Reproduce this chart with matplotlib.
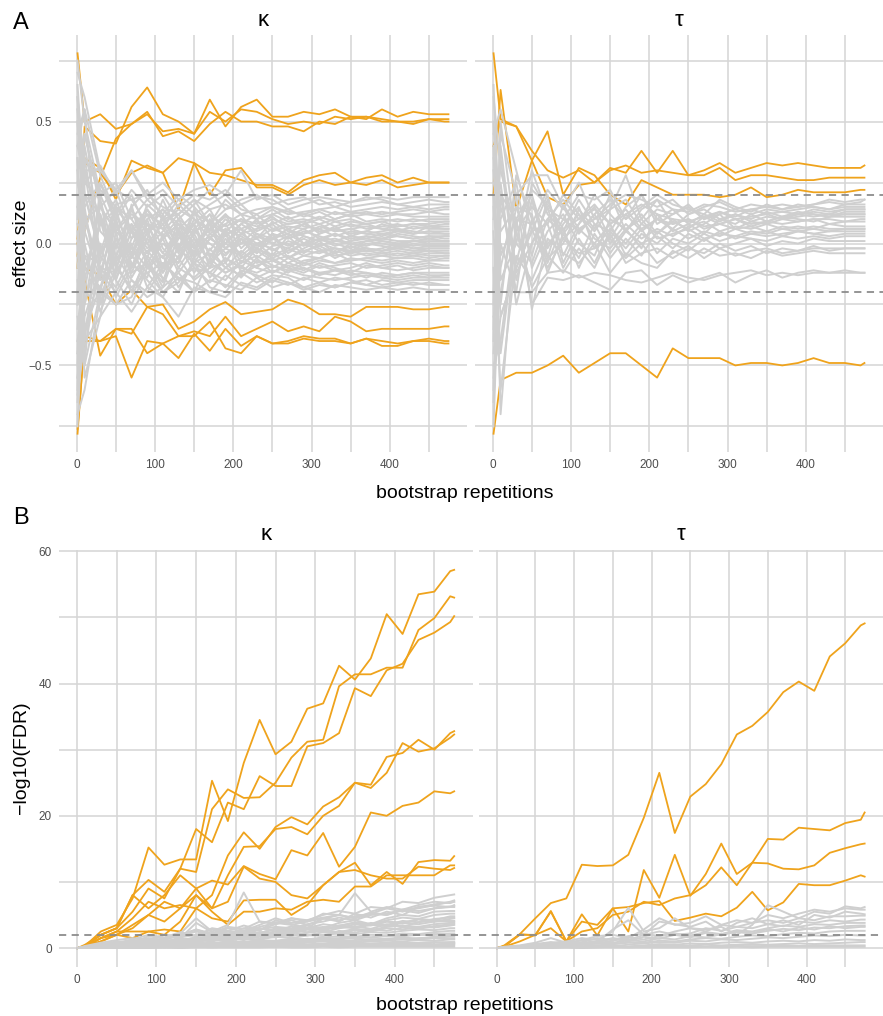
import numpy as np
import matplotlib.pyplot as plt

plt.rcParams['font.family'] = ['Liberation Sans', 'DejaVu Sans']

# bootstrap repetitions (x positions shared by every line)
reps = [1, 10, 30, 50, 70, 90, 110, 130, 150, 170, 190, 210, 230,
        250, 270, 290, 310, 330, 350, 370, 390, 410, 430, 450, 470, 475]

# ---- panel A: effect size (values x100) ----
kappa_es_hit = [
    [78, 50, 53, 47, 49, 54, 44, 46, 42, 49, 54, 50, 50, 48, 48, 46, 50, 49, 52, 52, 50, 50, 49, 51, 51, 51],
    [-10, 48, 42, 41, 56, 64, 53, 50, 45, 59, 48, 56, 59, 52, 52, 54, 53, 55, 52, 51, 55, 52, 54, 53, 53, 53],
    [0, 5, 27, 43, 49, 53, 46, 47, 45, 54, 50, 55, 54, 51, 49, 50, 49, 52, 51, 52, 51, 50, 50, 51, 50, 50],
    [2, 35, 31, 18, 34, 31, 29, 14, 33, 29, 28, 26, 24, 24, 21, 26, 28, 29, 25, 27, 28, 25, 27, 25, 25, 25],
    [-5, 33, 29, 20, 29, 32, 29, 35, 33, 20, 30, 31, 23, 23, 20, 24, 26, 24, 25, 24, 26, 23, 24, 25, 25, 25],
    [0, -10, -13, -25, -19, -26, -25, -35, -32, -27, -24, -29, -28, -27, -23, -25, -29, -29, -30, -26, -26, -26, -27, -27, -26, -26],
    [-76, -40, -40, -35, -35, -45, -41, -38, -36, -38, -30, -38, -35, -32, -36, -34, -36, -30, -32, -36, -35, -35, -35, -35, -34, -34],
    [-78, -38, -40, -38, -55, -40, -41, -47, -37, -44, -35, -42, -38, -41, -41, -39, -40, -40, -41, -39, -42, -42, -40, -39, -40, -40],
    [0, -15, -46, -35, -37, -26, -29, -38, -38, -32, -43, -45, -38, -41, -40, -38, -39, -39, -41, -39, -40, -41, -40, -40, -41, -41],
]
kappa_es_grey = [
    [70, 60, 30, 22, 18, 20, 15, 12, 18, 14, 16, 12, 14, 15, 12, 13, 14, 15, 13, 14, 15, 14, 15, 14, 15, 15],
    [-65, -30, -10, -18, -5, -12, -8, -15, -10, -12, -6, -10, -12, -9, -11, -10, -12, -13, -11, -12, -13, -14, -13, -14, -13, -13],
    [40, 25, 32, 20, 30, 18, 22, 15, 20, 18, 22, 16, 19, 18, 14, 16, 18, 15, 17, 19, 18, 16, 17, 18, 17, 17],
    [-40, -50, -20, -25, -15, -22, -18, -12, -20, -15, -17, -19, -14, -18, -16, -19, -17, -18, -16, -17, -18, -17, -16, -17, -17, -17],
    [10, 45, 15, 5, 12, 8, 3, 10, 5, 8, 4, 6, 9, 5, 7, 6, 8, 5, 6, 7, 6, 5, 7, 6, 6, 6],
    [-20, 5, -15, -8, -20, -5, -12, -2, -8, -4, -10, -6, -3, -7, -5, -8, -6, -4, -7, -6, -5, -6, -5, -6, -5, -5],
    [55, 35, 22, 15, 5, 12, 8, 14, 10, 6, 11, 9, 7, 10, 8, 9, 11, 9, 10, 8, 9, 10, 9, 10, 10, 10],
    [-55, -20, -25, -10, -18, -12, -20, -14, -16, -20, -13, -17, -19, -15, -17, -14, -16, -18, -16, -15, -17, -16, -17, -16, -17, -17],
    [30, -10, 8, 18, 2, 10, 14, 6, 12, 9, 5, 10, 8, 11, 6, 8, 10, 7, 9, 8, 9, 7, 8, 8, 9, 9],
    [-10, 20, -5, 10, -10, 2, -6, 4, -2, 3, -4, 0, 2, -3, 1, -1, 2, 0, -2, 1, 0, -1, 1, 0, 0, 0],
    [60, 15, 25, 10, 20, 5, 14, 8, 4, 12, 7, 10, 5, 8, 11, 7, 6, 9, 7, 8, 6, 7, 8, 7, 7, 7],
    [-30, -45, -5, -15, -25, -10, -5, -18, -8, -12, -15, -7, -10, -12, -9, -11, -8, -10, -12, -9, -10, -11, -10, -9, -10, -10],
    [20, -20, 20, 5, 15, 22, 10, 18, 12, 16, 20, 14, 12, 15, 13, 12, 14, 12, 13, 12, 13, 12, 12, 13, 12, 12],
    [-50, 10, -12, -20, -8, -15, -22, -10, -14, -8, -12, -9, -14, -11, -13, -15, -12, -11, -13, -12, -14, -13, -12, -13, -13, -13],
    [0, 30, 10, -5, 8, -2, 5, 12, 2, -3, 6, 3, -1, 4, 2, 5, 3, 1, 3, 2, 4, 3, 2, 3, 3, 3],
    [35, -35, -18, 2, -10, 8, -4, -8, 5, 0, -5, 2, -2, -6, -3, 0, -3, -2, -4, -2, -3, -2, -3, -2, -2, -2],
    [-70, -60, -22, -5, -15, -20, -10, -6, -15, -10, -8, -14, -7, -10, -6, -9, -7, -8, -6, -7, -8, -7, -8, -7, -7, -7],
    [45, 55, 28, 12, 22, 15, 20, 10, 16, 22, 14, 18, 20, 16, 18, 19, 16, 17, 15, 16, 17, 16, 15, 16, 16, 16],
    [-5, -15, 15, 22, 5, -8, 2, 8, -5, 4, 0, -4, 3, 0, -2, 2, -1, 1, 0, -1, 1, 0, -1, 0, 0, 0],
    [15, 0, -28, -12, 0, -18, -8, -14, -20, -6, -12, -8, -5, -9, -12, -8, -10, -9, -8, -10, -9, -8, -9, -8, -9, -9],
    [-25, 40, 5, -2, 14, 4, 10, 2, 8, 14, 3, 8, 12, 6, 4, 8, 5, 6, 4, 5, 4, 5, 4, 5, 5, 5],
    [50, -5, -8, 15, 10, 0, -10, 5, -6, 2, 8, -2, 4, 2, 6, 3, 1, 4, 2, 3, 2, 3, 2, 3, 2, 2],
    [-45, -25, 0, -22, -10, 5, -15, -5, 2, -8, -2, -5, -10, -4, -8, -5, -6, -3, -5, -4, -5, -4, -5, -4, -4, -4],
    [25, 12, -12, 8, -5, 14, 6, -3, 10, 5, 12, 6, 2, 9, 5, 4, 7, 5, 6, 4, 5, 6, 5, 4, 4, 4],
    [-15, -40, 12, -8, 8, -4, 2, -12, -3, -10, 2, -5, 0, -2, -6, -3, -4, -2, -3, -2, -3, -2, -3, -3, -3, -3],
    [65, 20, -2, 0, -12, 2, 18, 4, -4, 10, -8, 4, 0, 2, -1, 3, 1, 2, 0, 1, 2, 1, 1, 2, 1, 1],
    [-60, 25, 18, -15, 2, 12, -2, -8, 14, -6, 5, -12, -6, -12, -8, -10, -13, -11, -12, -14, -12, -13, -12, -12, -12, -12],
    [5, -55, -30, 5, -20, -6, -18, 0, -12, -2, -10, -3, -8, -6, -10, -7, -6, -8, -7, -6, -7, -6, -6, -7, -6, -6],
    [75, 50, 20, 25, 10, 18, 12, 20, 15, 8, 18, 12, 10, 14, 10, 12, 10, 13, 11, 12, 11, 12, 11, 11, 11, 11],
    [-75, -10, -18, -25, -22, -8, -20, -16, -8, -18, -20, -12, -16, -13, -14, -18, -16, -14, -15, -17, -15, -16, -15, -15, -15, -15],
    [8, 5, 25, 12, -4, 6, -12, 2, 8, -5, 0, 6, -4, 2, 4, 0, 2, -1, 1, 2, 1, 0, 1, 1, 1, 1],
    [-35, -5, -20, 8, -8, -14, 4, -10, 0, -14, -6, -10, -2, -5, -2, -5, -3, -5, -4, -3, -4, -3, -4, -3, -4, -4],
    [60, 30, 30, 22, 30, 20, 25, 18, 22, 24, 20, 30, 18, 20, 16, 18, 19, 18, 17, 18, 19, 18, 19, 19, 19, 19],
    [-62, -40, -30, -20, -28, -18, -22, -30, -18, -20, -22, -16, -18, -14, -16, -18, -20, -17, -18, -19, -18, -19, -18, -19, -19, -19],
    [30, 45, 18, -6, 14, 0, 8, -4, 6, 12, -2, 4, 10, 2, 6, 0, 4, 7, 3, 5, 8, 6, 4, 7, 6, 6],
    [-25, -10, 8, 14, -6, 10, -10, 6, -4, 8, -8, 2, -4, 4, -6, -2, 1, -4, -1, -3, -2, 0, -2, -1, -1, -1],
    [50, 20, 12, -10, 5, -6, 12, -2, 8, -10, 4, -8, 0, -5, 3, -3, -1, -4, 0, -2, -3, -1, -2, -2, -2, -2],
    [-55, -35, -12, 10, -14, -3, -10, 10, -2, 6, 0, 8, 4, 0, 3, 6, 2, 4, 1, 3, 2, 4, 3, 2, 3, 3],
    [15, 35, -4, 16, 18, 8, 6, 16, 10, 2, 10, 4, 6, 12, 9, 10, 8, 10, 12, 9, 10, 9, 10, 9, 9, 9],
    [-45, 15, -25, 0, -12, -8, -16, 4, -10, -16, -10, -13, -9, -7, -10, -12, -9, -11, -10, -8, -10, -9, -11, -10, -10, -10],
    [35, -25, 10, -15, 6, 14, 2, 8, 0, 6, 12, 0, 6, 8, 2, 4, 6, 3, 5, 4, 3, 5, 4, 5, 4, 4],
    [-20, 30, -10, -12, 16, -10, 0, -6, 4, -8, 6, -6, -2, 4, -4, 0, -2, -6, -3, -5, -4, -5, -4, -5, -5, -5],
    [55, 10, 15, 5, -2, 16, 10, 12, 18, 8, 14, 16, 10, 12, 14, 11, 13, 10, 12, 13, 12, 13, 14, 13, 14, 14],
    [-40, -20, -18, -6, -2, -10, -14, -20, -6, -12, -18, -11, -13, -16, -11, -13, -14, -15, -14, -13, -14, -15, -14, -14, -14, -14],
    [0, -50, 25, 8, -6, 4, -4, 6, -8, 2, -2, 2, -6, -1, 0, -4, 0, -2, -3, 0, -1, -2, 0, -1, -1, -1],
    [40, 55, -15, 15, 6, -4, 10, -2, 14, 4, 8, 12, 2, 6, 8, 9, 4, 6, 8, 6, 7, 8, 6, 7, 8, 8],
]
tau_es_hit = [
    [78, 51, 48, 34, 19, 16, 24, 25, 31, 29, 38, 29, 38, 28, 30, 33, 29, 31, 33, 32, 33, 32, 31, 31, 31, 32],
    [20, 63, 14, 34, 46, 20, 31, 28, 20, 16, 26, 23, 20, 20, 20, 19, 20, 23, 19, 20, 22, 21, 21, 21, 22, 22],
    [40, 50, 48, 38, 30, 27, 30, 25, 30, 32, 29, 30, 29, 28, 28, 31, 26, 28, 28, 27, 26, 26, 27, 27, 27, 27],
    [-78, -56, -53, -53, -50, -46, -53, -49, -45, -45, -50, -55, -43, -47, -47, -47, -50, -49, -49, -50, -49, -47, -49, -49, -50, -49],
]
tau_es_grey = [
    [40, -70, 10, -25, -14, -15, -13, -16, -19, -12, -11, -17, -13, -16, -14, -12, -16, -13, -11, -14, -12, -11, -12, -12, -12, -12],
    [-60, 20, -20, -20, -12, -11, -14, -12, -13, -15, -16, -14, -12, -14, -15, -13, -12, -11, -13, -12, -13, -12, -12, -11, -12, -12],
    [60, 30, 5, 15, 8, 20, 12, 5, 14, 28, 10, 18, 14, 13, 16, 15, 13, 14, 15, 16, 15, 16, 17, 16, 17, 18],
    [-40, 45, 20, 28, 28, 15, 4, 12, 18, 10, 20, 8, 12, 15, 10, 13, 11, 14, 12, 13, 14, 15, 14, 16, 16, 16],
    [20, -30, -10, 5, 20, -5, 8, 15, 2, 12, 5, 10, 14, 8, 12, 9, 12, 10, 13, 11, 12, 13, 12, 14, 14, 14],
    [-75, 10, 25, -10, 5, 12, 0, -5, 10, 6, -2, 12, 5, 8, 4, 10, 8, 12, 9, 11, 13, 12, 11, 13, 13, 13],
    [50, -15, 0, 30, 12, 5, 18, 8, 5, 15, 20, 10, 6, 12, 14, 10, 12, 9, 11, 10, 12, 11, 12, 12, 12, 12],
    [-20, 35, -15, 10, -8, 8, 15, -2, 6, 0, 8, 4, 10, 5, 8, 12, 6, 9, 8, 10, 9, 10, 10, 9, 10, 10],
    [30, 5, 15, -5, 18, 2, 8, 20, 12, 5, 14, 18, 8, 10, 6, 8, 10, 7, 9, 8, 9, 10, 8, 9, 9, 9],
    [-50, -40, 8, 20, -2, 10, 5, 12, 0, 8, 2, 6, 3, 7, 9, 5, 7, 6, 8, 6, 7, 6, 8, 7, 7, 7],
    [10, 25, -25, 0, 15, -8, 6, 0, 8, -5, 4, 0, 6, 2, 5, 3, 6, 4, 5, 3, 5, 4, 5, 5, 5, 5],
    [-30, -20, 15, 12, -12, 4, -6, 8, -4, 5, 0, 3, -2, 4, 1, 5, 2, 4, 3, 4, 5, 4, 3, 4, 4, 4],
    [45, 55, 30, 5, 8, -10, 2, -8, 5, -2, 6, -4, 2, 0, 4, 1, 3, 2, 1, 3, 2, 3, 2, 3, 3, 3],
    [-10, -60, -5, -15, 0, 6, -10, 4, -6, 2, -5, 5, 0, -3, 2, -2, 0, 2, -1, 1, 0, 2, 1, 1, 1, 1],
    [25, 15, -8, 18, -5, -12, -2, -10, 4, -8, -4, -2, -6, -2, -4, 0, -3, -1, -4, -2, -3, -2, -2, -2, -2, -2],
    [-45, -10, 20, -27, 2, -4, -8, 0, -12, -4, -8, -10, -3, -6, -2, -5, -4, -6, -3, -5, -4, -3, -4, -4, -4, -4],
    [65, -5, 10, 8, 22, 14, 25, 10, 16, 20, 18, 15, 18, 12, 15, 17, 14, 16, 15, 14, 16, 15, 14, 15, 15, 15],
    [-25, 40, -12, 0, 10, 18, 10, 16, 8, 14, 6, 10, 8, 10, 7, 8, 6, 7, 5, 7, 6, 7, 6, 6, 6, 6],
    [5, -45, 5, -18, -6, 0, 14, 6, 20, 5, 12, 4, 9, 6, 11, 8, 10, 8, 9, 11, 10, 9, 11, 11, 11, 11],
    [-65, 0, -20, 25, 14, 10, 20, 18, 22, 10, 15, 20, 16, 14, 12, 18, 15, 13, 16, 14, 15, 16, 18, 17, 18, 18],
    [35, 20, 10, 22, 16, 6, 10, 14, 8, 12, 16, 12, 10, 9, 11, 13, 10, 11, 12, 10, 11, 12, 11, 12, 12, 12],
    [-35, 50, 0, -8, 10, 4, 12, 2, -2, 6, 10, 2, 4, 6, 2, 4, 3, 5, 4, 6, 5, 6, 5, 6, 6, 6],
    [15, -25, 28, 10, -6, 16, 6, 10, 14, 18, 8, 14, 12, 16, 10, 12, 14, 12, 14, 13, 12, 14, 13, 14, 14, 14],
    [-55, -30, -10, 6, -10, 2, -4, -2, 2, -6, 0, -8, -4, -1, -6, -2, -5, -3, -2, -4, -3, -1, -3, -2, -2, -2],
]

# ---- panel B: -log10(FDR) ----
kappa_fdr_hit = [
    [0, 0.3, 2.5, 3.5, 7.5, 15.2, 12.6, 13.4, 13.4, 25.3, 19.2, 28.0, 34.5, 29.3, 31.2, 36.2, 37.0, 42.7, 40.6, 43.8, 50.5, 47.5, 53.5, 53.9, 57.0, 57.2],
    [0, 0.2, 2.0, 3.0, 8.0, 10.3, 8.5, 12.0, 11.5, 21.0, 24.0, 22.7, 22.8, 25.0, 28.8, 31.2, 31.5, 39.6, 41.4, 41.4, 42.4, 42.4, 48.1, 49.9, 53.2, 53.0],
    [0, 0.5, 2.0, 3.0, 5.5, 9.0, 7.5, 12.0, 18.0, 16.0, 22.0, 21.0, 26.0, 24.5, 24.5, 30.5, 31.0, 32.5, 39.3, 38.1, 42.0, 43.0, 46.6, 47.7, 49.3, 50.2],
    [0, 0.2, 1.5, 2.5, 4.5, 7.0, 6.0, 6.5, 6.0, 8.0, 14.0, 17.5, 15.0, 18.3, 19.8, 18.7, 21.4, 22.8, 25.0, 24.7, 28.9, 29.5, 31.5, 30.0, 32.5, 32.8],
    [0, 0.2, 1.0, 2.0, 3.0, 5.0, 7.0, 6.0, 8.0, 6.0, 11.0, 15.3, 15.4, 18.0, 18.3, 17.2, 20.0, 21.5, 25.0, 24.2, 26.5, 31.0, 29.7, 30.2, 31.8, 32.3],
    [0, 0.2, 1.5, 2.0, 3.5, 5.0, 4.0, 6.0, 9.0, 10.2, 9.6, 12.4, 11.2, 10.4, 14.8, 14.0, 17.4, 12.3, 15.3, 20.5, 20.0, 21.5, 22.0, 23.7, 23.4, 23.7],
    [0, 0.3, 2.0, 3.0, 8.0, 6.0, 8.0, 11.0, 9.0, 6.0, 7.0, 12.3, 10.5, 10.0, 8.0, 7.5, 9.5, 11.5, 12.9, 9.5, 11.5, 9.7, 13.0, 13.3, 13.2, 13.9],
    [0, 0.2, 1.5, 2.5, 2.5, 2.5, 2.0, 4.0, 8.0, 5.5, 3.5, 5.5, 5.5, 6.0, 5.8, 7.0, 7.3, 7.0, 9.3, 9.3, 11.0, 11.0, 11.0, 11.0, 12.5, 12.5],
    [0, 0.3, 1.0, 2.0, 1.5, 2.5, 2.8, 2.5, 6.0, 4.5, 4.0, 7.2, 7.3, 7.3, 5.0, 6.5, 9.5, 11.5, 11.8, 11.0, 10.5, 10.5, 12.3, 12.0, 11.8, 12.1],
]
kappa_fdr_grey = [
    [0, 0.1, 0.5, 0.8, 1.0, 1.5, 1.2, 2.0, 2.8, 2.2, 3.2, 2.9, 4.0, 3.6, 4.5, 4.2, 5.0, 5.6, 5.2, 6.2, 6.0, 7.0, 6.8, 7.6, 8.0, 8.1],
    [0, 0.2, 0.3, 0.6, 1.2, 1.0, 1.5, 2.2, 4.5, 2.5, 3.5, 8.4, 4.0, 3.8, 4.5, 4.0, 5.2, 5.0, 8.3, 5.5, 6.2, 5.8, 6.5, 7.0, 6.8, 7.0],
    [0, 0.1, 0.2, 0.4, 0.8, 1.1, 0.9, 1.6, 2.0, 2.8, 2.2, 2.6, 3.5, 4.5, 3.8, 4.2, 4.6, 5.0, 4.5, 5.2, 6.0, 5.5, 6.2, 6.4, 6.2, 6.5],
    [0, 0.0, 0.3, 0.5, 0.7, 0.9, 1.2, 1.0, 1.5, 1.8, 2.5, 2.0, 2.8, 3.2, 3.0, 3.6, 4.0, 4.6, 4.2, 5.0, 5.2, 5.8, 5.6, 6.0, 6.3, 6.3],
    [0, 0.1, 0.4, 0.3, 0.6, 0.5, 0.9, 1.3, 1.1, 1.5, 2.0, 1.8, 2.4, 2.2, 2.8, 3.0, 2.6, 3.4, 3.8, 3.5, 4.2, 4.6, 4.4, 5.0, 5.2, 5.2],
    [0, 0.2, 0.2, 0.5, 0.4, 0.8, 0.7, 1.2, 1.6, 1.3, 1.8, 2.3, 2.0, 2.5, 2.2, 2.8, 3.2, 3.0, 3.6, 3.4, 4.0, 3.8, 4.4, 4.2, 4.8, 4.8],
    [0, 0.1, 0.3, 0.4, 0.6, 0.7, 1.0, 0.9, 1.3, 1.6, 1.4, 1.9, 2.2, 2.0, 2.6, 2.4, 2.9, 3.2, 3.0, 3.5, 3.3, 3.8, 3.6, 4.0, 4.1, 4.1],
    [0, 0.0, 0.1, 0.3, 0.5, 0.4, 0.8, 1.1, 0.9, 1.4, 1.2, 1.7, 1.5, 2.0, 1.8, 2.3, 2.6, 2.4, 2.9, 2.7, 3.2, 3.4, 3.2, 3.6, 3.8, 3.8],
    [0, 0.1, 0.2, 0.4, 0.3, 0.6, 0.5, 0.9, 1.2, 1.0, 1.5, 1.3, 1.8, 1.6, 2.1, 1.9, 2.4, 2.2, 2.7, 2.5, 3.0, 2.8, 3.2, 3.1, 3.4, 3.5],
    [0, 0.2, 0.4, 0.2, 0.5, 0.8, 0.6, 0.7, 1.0, 1.2, 1.1, 1.4, 1.3, 1.7, 1.5, 1.9, 2.0, 2.2, 2.1, 2.4, 2.3, 2.6, 2.8, 2.7, 3.0, 3.0],
    [0, 0.1, 0.1, 0.3, 0.4, 0.3, 0.6, 0.5, 0.8, 0.7, 1.0, 0.9, 1.2, 1.1, 1.4, 1.3, 1.6, 1.8, 1.7, 2.0, 1.9, 2.2, 2.1, 2.4, 2.6, 2.6],
    [0, 0.0, 0.2, 0.2, 0.3, 0.5, 0.4, 0.6, 0.5, 0.8, 0.7, 0.9, 1.1, 1.0, 1.2, 1.4, 1.3, 1.5, 1.7, 1.6, 1.8, 1.9, 2.0, 2.1, 2.2, 2.2],
    [0, 0.1, 0.1, 0.2, 0.2, 0.3, 0.5, 0.4, 0.6, 0.5, 0.7, 0.6, 0.8, 0.9, 0.8, 1.0, 1.1, 1.0, 1.2, 1.3, 1.4, 1.3, 1.5, 1.6, 1.7, 1.7],
    [0, 0.0, 0.1, 0.1, 0.2, 0.2, 0.3, 0.3, 0.4, 0.5, 0.4, 0.6, 0.5, 0.7, 0.6, 0.8, 0.7, 0.9, 0.8, 1.0, 1.1, 1.0, 1.2, 1.1, 1.3, 1.3],
    [0, 0.1, 0.0, 0.1, 0.1, 0.2, 0.1, 0.2, 0.3, 0.2, 0.4, 0.3, 0.4, 0.5, 0.4, 0.5, 0.6, 0.5, 0.7, 0.6, 0.7, 0.8, 0.7, 0.8, 0.9, 0.9],
    [0, 0.0, 0.1, 0.0, 0.1, 0.1, 0.2, 0.1, 0.2, 0.2, 0.3, 0.2, 0.3, 0.3, 0.4, 0.3, 0.4, 0.4, 0.5, 0.4, 0.5, 0.5, 0.6, 0.5, 0.6, 0.6],
    [0, 0.0, 0.0, 0.1, 0.0, 0.1, 0.1, 0.1, 0.2, 0.1, 0.2, 0.2, 0.2, 0.2, 0.3, 0.2, 0.3, 0.3, 0.3, 0.3, 0.3, 0.4, 0.3, 0.4, 0.4, 0.4],
    [0, 0.0, 0.0, 0.0, 0.1, 0.0, 0.1, 0.0, 0.1, 0.1, 0.1, 0.1, 0.1, 0.2, 0.1, 0.1, 0.2, 0.1, 0.2, 0.2, 0.2, 0.2, 0.2, 0.2, 0.2, 0.2],
    [0, 0.2, 0.6, 1.0, 0.8, 1.8, 1.5, 2.2, 1.8, 2.0, 1.5, 2.5, 2.2, 3.0, 2.8, 3.4, 3.0, 3.8, 4.2, 3.6, 4.5, 5.0, 4.8, 5.5, 5.6, 5.6],
    [0, 0.1, 0.3, 0.7, 1.1, 0.6, 1.4, 1.8, 2.8, 2.0, 2.6, 2.3, 3.0, 2.5, 3.3, 3.0, 3.6, 3.3, 3.9, 3.5, 4.0, 3.7, 4.3, 4.0, 4.4, 4.5],
    [0, 0.0, 0.2, 0.1, 0.3, 0.2, 0.4, 0.3, 0.2, 0.4, 0.3, 0.5, 0.4, 0.3, 0.5, 0.4, 0.6, 0.5, 0.4, 0.6, 0.5, 0.7, 0.6, 0.5, 0.7, 0.7],
    [0, 0.1, 0.2, 0.3, 0.2, 0.4, 0.3, 0.5, 0.7, 0.6, 0.9, 0.8, 1.1, 1.0, 1.3, 1.2, 1.5, 1.4, 1.7, 1.6, 1.9, 1.8, 2.0, 2.0, 2.1, 2.1],
    [0, 0.1, 0.2, 0.1, 0.2, 0.3, 0.2, 0.3, 0.4, 0.3, 0.4, 0.5, 0.4, 0.5, 0.6, 0.5, 0.6, 0.7, 0.6, 0.7, 0.8, 0.7, 0.8, 0.9, 0.8, 0.8],
    [0, 0.3, 0.8, 1.2, 1.5, 1.2, 2.0, 1.8, 2.5, 2.0, 3.0, 2.5, 3.2, 3.8, 3.5, 4.0, 4.5, 4.2, 4.8, 5.2, 5.0, 5.8, 6.0, 6.5, 7.0, 7.2],
    [0, 0.1, 0.4, 0.6, 0.9, 1.3, 1.0, 1.4, 1.2, 1.6, 2.2, 1.9, 2.3, 2.8, 2.5, 3.1, 2.8, 3.4, 3.1, 3.8, 3.5, 4.1, 3.9, 4.4, 4.6, 4.6],
    [0, 0.1, 0.3, 0.9, 0.6, 1.2, 2.0, 1.5, 3.8, 2.4, 2.0, 3.0, 2.6, 4.2, 3.6, 3.0, 4.5, 4.0, 5.2, 4.6, 5.5, 5.0, 6.2, 6.6, 6.9, 7.0],
    [0, 0.2, 0.5, 0.4, 1.0, 0.7, 1.1, 0.8, 1.3, 1.9, 1.6, 1.2, 2.0, 1.7, 2.4, 2.0, 1.8, 2.6, 2.3, 2.9, 2.6, 3.1, 2.9, 3.3, 3.6, 3.6],
    [0, 0.0, 0.2, 0.3, 0.2, 0.5, 0.3, 0.6, 0.4, 0.7, 0.9, 0.6, 0.8, 1.1, 0.9, 1.2, 1.0, 1.3, 1.5, 1.2, 1.4, 1.6, 1.4, 1.7, 1.9, 1.9],
    [0, 0.1, 0.4, 0.8, 1.3, 2.0, 1.6, 2.4, 1.8, 3.0, 2.6, 3.4, 2.8, 3.6, 4.2, 3.5, 4.4, 5.0, 4.5, 5.4, 5.0, 5.7, 5.3, 6.0, 6.2, 6.2],
    [0, 0.0, 0.1, 0.2, 0.3, 0.2, 0.4, 0.6, 0.5, 0.8, 0.6, 1.0, 0.8, 0.6, 1.0, 0.9, 1.2, 1.1, 0.9, 1.3, 1.2, 1.4, 1.3, 1.5, 1.4, 1.4],
    [0, 0.1, 0.3, 0.5, 0.7, 1.0, 0.8, 1.2, 1.5, 1.1, 1.8, 1.5, 2.2, 1.9, 2.5, 2.8, 2.4, 3.0, 3.3, 2.9, 3.6, 3.2, 3.9, 4.2, 4.0, 4.0],
]
tau_fdr_hit = [
    [0, 0.4, 2.1, 4.5, 6.8, 7.5, 12.6, 12.4, 12.5, 14.1, 19.7, 26.5, 17.4, 22.9, 24.8, 27.8, 32.3, 33.6, 35.7, 38.7, 40.3, 38.9, 44.1, 46.1, 48.8, 49.1],
    [0, 0.2, 1.0, 2.0, 3.0, 1.0, 2.5, 3.0, 5.0, 5.5, 7.0, 6.5, 7.5, 8.0, 9.5, 12.2, 9.5, 12.9, 16.5, 16.4, 18.2, 18.0, 17.8, 18.9, 19.4, 20.5],
    [0, 0.3, 2.0, 2.0, 5.5, 1.0, 4.0, 3.5, 6.0, 2.5, 11.8, 7.6, 14.1, 7.9, 11.2, 15.8, 11.2, 12.9, 12.8, 12.0, 11.9, 12.5, 14.4, 15.1, 15.7, 15.8],
    [0, 0.2, 2.1, 1.9, 5.6, 1.0, 5.1, 1.9, 6.0, 6.2, 6.8, 7.1, 4.1, 4.6, 5.2, 4.8, 6.1, 8.5, 5.7, 6.9, 9.7, 9.5, 9.5, 10.2, 11.0, 10.8],
]
tau_fdr_grey = [
    [0, 0.1, 0.3, 0.5, 0.8, 1.0, 1.5, 1.2, 2.5, 6.1, 2.5, 3.0, 4.5, 3.0, 2.8, 3.2, 2.0, 3.5, 6.5, 5.5, 4.5, 5.5, 5.2, 6.3, 6.0, 6.2],
    [0, 0.2, 0.4, 0.8, 1.5, 0.8, 1.2, 1.8, 2.0, 1.5, 2.8, 4.5, 3.5, 3.8, 4.8, 3.5, 4.2, 3.8, 5.0, 4.5, 5.2, 5.8, 5.5, 6.0, 5.8, 5.8],
    [0, 0.1, 0.2, 0.4, 0.6, 0.5, 0.9, 1.5, 1.2, 1.8, 2.2, 1.8, 2.5, 3.0, 2.5, 3.5, 3.2, 3.8, 4.2, 3.8, 4.5, 4.2, 4.8, 4.8, 4.9, 4.9],
    [0, 0.1, 0.3, 0.2, 0.5, 0.8, 0.6, 1.0, 1.5, 1.2, 2.0, 2.5, 2.0, 2.2, 3.0, 2.6, 3.2, 3.0, 3.6, 3.3, 4.0, 3.8, 4.2, 4.0, 4.3, 4.3],
    [0, 0.0, 0.2, 0.4, 0.3, 0.6, 0.8, 0.7, 1.1, 1.6, 1.3, 1.8, 2.2, 1.9, 2.4, 2.1, 2.7, 2.5, 3.0, 3.4, 3.2, 3.6, 3.5, 3.8, 3.8, 3.8],
    [0, 0.1, 0.1, 0.3, 0.5, 0.4, 0.7, 0.9, 0.8, 1.2, 1.0, 1.5, 1.3, 1.8, 1.6, 2.1, 2.4, 2.2, 2.6, 2.9, 2.7, 3.1, 3.0, 3.3, 3.4, 3.4],
    [0, 0.0, 0.1, 0.2, 0.4, 0.3, 0.5, 0.7, 0.6, 0.9, 0.8, 1.1, 1.0, 1.3, 1.5, 1.4, 1.7, 1.9, 1.8, 2.1, 2.3, 2.2, 2.5, 2.6, 2.6, 2.6],
    [0, 0.1, 0.2, 0.3, 0.2, 0.4, 0.5, 0.4, 0.6, 0.8, 0.7, 0.9, 0.8, 1.1, 1.0, 1.3, 1.2, 1.4, 1.6, 1.5, 1.7, 1.9, 1.8, 2.0, 1.9, 1.9],
    [0, 0.0, 0.1, 0.1, 0.2, 0.3, 0.2, 0.4, 0.3, 0.5, 0.4, 0.6, 0.5, 0.7, 0.6, 0.8, 0.9, 0.8, 1.0, 1.1, 1.0, 1.2, 1.1, 1.3, 1.2, 1.2],
    [0, 0.0, 0.0, 0.1, 0.1, 0.2, 0.1, 0.2, 0.3, 0.2, 0.3, 0.4, 0.3, 0.4, 0.5, 0.4, 0.5, 0.6, 0.5, 0.6, 0.7, 0.6, 0.7, 0.8, 0.9, 0.9],
    [0, 0.0, 0.0, 0.0, 0.1, 0.1, 0.1, 0.1, 0.2, 0.1, 0.2, 0.2, 0.2, 0.3, 0.2, 0.3, 0.3, 0.3, 0.3, 0.4, 0.3, 0.4, 0.4, 0.4, 0.4, 0.4],
    [0, 0.0, 0.0, 0.0, 0.0, 0.1, 0.0, 0.1, 0.1, 0.1, 0.1, 0.1, 0.1, 0.1, 0.2, 0.1, 0.2, 0.1, 0.2, 0.2, 0.2, 0.2, 0.2, 0.2, 0.2, 0.2],
    [0, 0.1, 0.3, 0.6, 0.9, 0.5, 1.2, 0.9, 2.8, 4.2, 2.0, 4.0, 3.6, 3.2, 4.0, 2.5, 3.8, 4.5, 3.6, 4.2, 3.5, 5.0, 4.6, 5.5, 5.2, 5.1],
    [0, 0.1, 0.2, 0.3, 0.5, 0.8, 0.5, 0.9, 1.4, 1.0, 1.7, 1.4, 2.0, 1.6, 2.3, 1.9, 2.6, 2.2, 2.9, 2.5, 3.1, 2.8, 3.3, 3.0, 3.2, 3.2],
]

ORANGE = '#EFA31C'
GREY = '#CFCFCF'
GRID = '#D5D5D5'
TXT = '#4D4D4D'

W, H = 883, 1016
fig = plt.figure(figsize=(W / 100, H / 100), dpi=100)


def px_box(x0, x1, y0, y1):
    # pixel box (top-left origin) -> figure fraction rect
    return [x0 / W, 1 - y1 / H, (x1 - x0) / W, (y1 - y0) / H]


def make_panel(rect, ylim, ymajor, yminor, ylabels, hits, greys, scale, cutoff):
    ax = fig.add_axes(px_box(*rect))
    ax.set_xlim(-22.7, 498.7)
    ax.set_ylim(*ylim)
    ax.set_xticks([0, 100, 200, 300, 400])
    ax.set_xticks([50, 150, 250, 350, 450], minor=True)
    ax.set_xticklabels(['0', '100', '200', '300', '400'])
    ax.set_yticks(ymajor)
    ax.set_yticks(yminor, minor=True)
    if ylabels is None:
        ax.set_yticklabels([])
    else:
        ax.set_yticklabels(ylabels)
    ax.grid(which='both', color=GRID, linewidth=1.1)
    ax.set_axisbelow(True)
    for s in ax.spines.values():
        s.set_visible(False)
    ax.tick_params(which='both', length=0, labelsize=8.5, labelcolor=TXT, pad=5)

    # significant features in orange, the rest in grey drawn on top
    for line in hits:
        ax.plot(reps, np.array(line) / scale, color=ORANGE, lw=1.3, zorder=2)
    for line in greys:
        ax.plot(reps, np.array(line) / scale, color=GREY, lw=1.4, zorder=3)
    for c in cutoff:
        ax.axhline(c, color='#8C8C8C', lw=1.3, dashes=(4, 3), zorder=4)
    return ax


es_ylim = (-0.855, 0.855)
es_major = [-0.5, 0.0, 0.5]
es_minor = [-0.75, -0.25, 0.25, 0.75]
make_panel((59, 467, 35, 452), es_ylim, es_major, es_minor, ['\u22120.5', '0.0', '0.5'],
           kappa_es_hit, kappa_es_grey, 100, [-0.2, 0.2])
make_panel((475, 883, 35, 452), es_ylim, es_major, es_minor, None,
           tau_es_hit, tau_es_grey, 100, [-0.2, 0.2])

fdr_ylim = (-2.87, 60.2)
fdr_major = [0, 20, 40, 60]
fdr_minor = [10, 30, 50]
make_panel((59, 473, 550, 967), fdr_ylim, fdr_major, fdr_minor, ['0', '20', '40', '60'],
           kappa_fdr_hit, kappa_fdr_grey, 1, [2])
make_panel((479, 883, 550, 967), fdr_ylim, fdr_major, fdr_minor, None,
           tau_fdr_hit, tau_fdr_grey, 1, [2])


def ftext(x, y, s, **kw):
    fig.text(x / W, 1 - y / H, s, ha='center', va='center', **kw)


# panel letters, facet strips and axis titles
ftext(21, 23, 'A', fontsize=17)
ftext(21, 518, 'B', fontsize=17)
ftext(263, 21, '\u03ba', fontsize=16)
ftext(679, 21, '\u03c4', fontsize=16)
ftext(266, 535, '\u03ba', fontsize=16)
ftext(681, 535, '\u03c4', fontsize=16)
ftext(22, 243, 'effect size', fontsize=14, rotation=90)
ftext(22, 758, '\u2212log10(FDR)', fontsize=14, rotation=90)
ftext(465, 494, 'bootstrap repetitions', fontsize=14)
ftext(465, 1005, 'bootstrap repetitions', fontsize=14)

fig.savefig('out.png', dpi=100)
